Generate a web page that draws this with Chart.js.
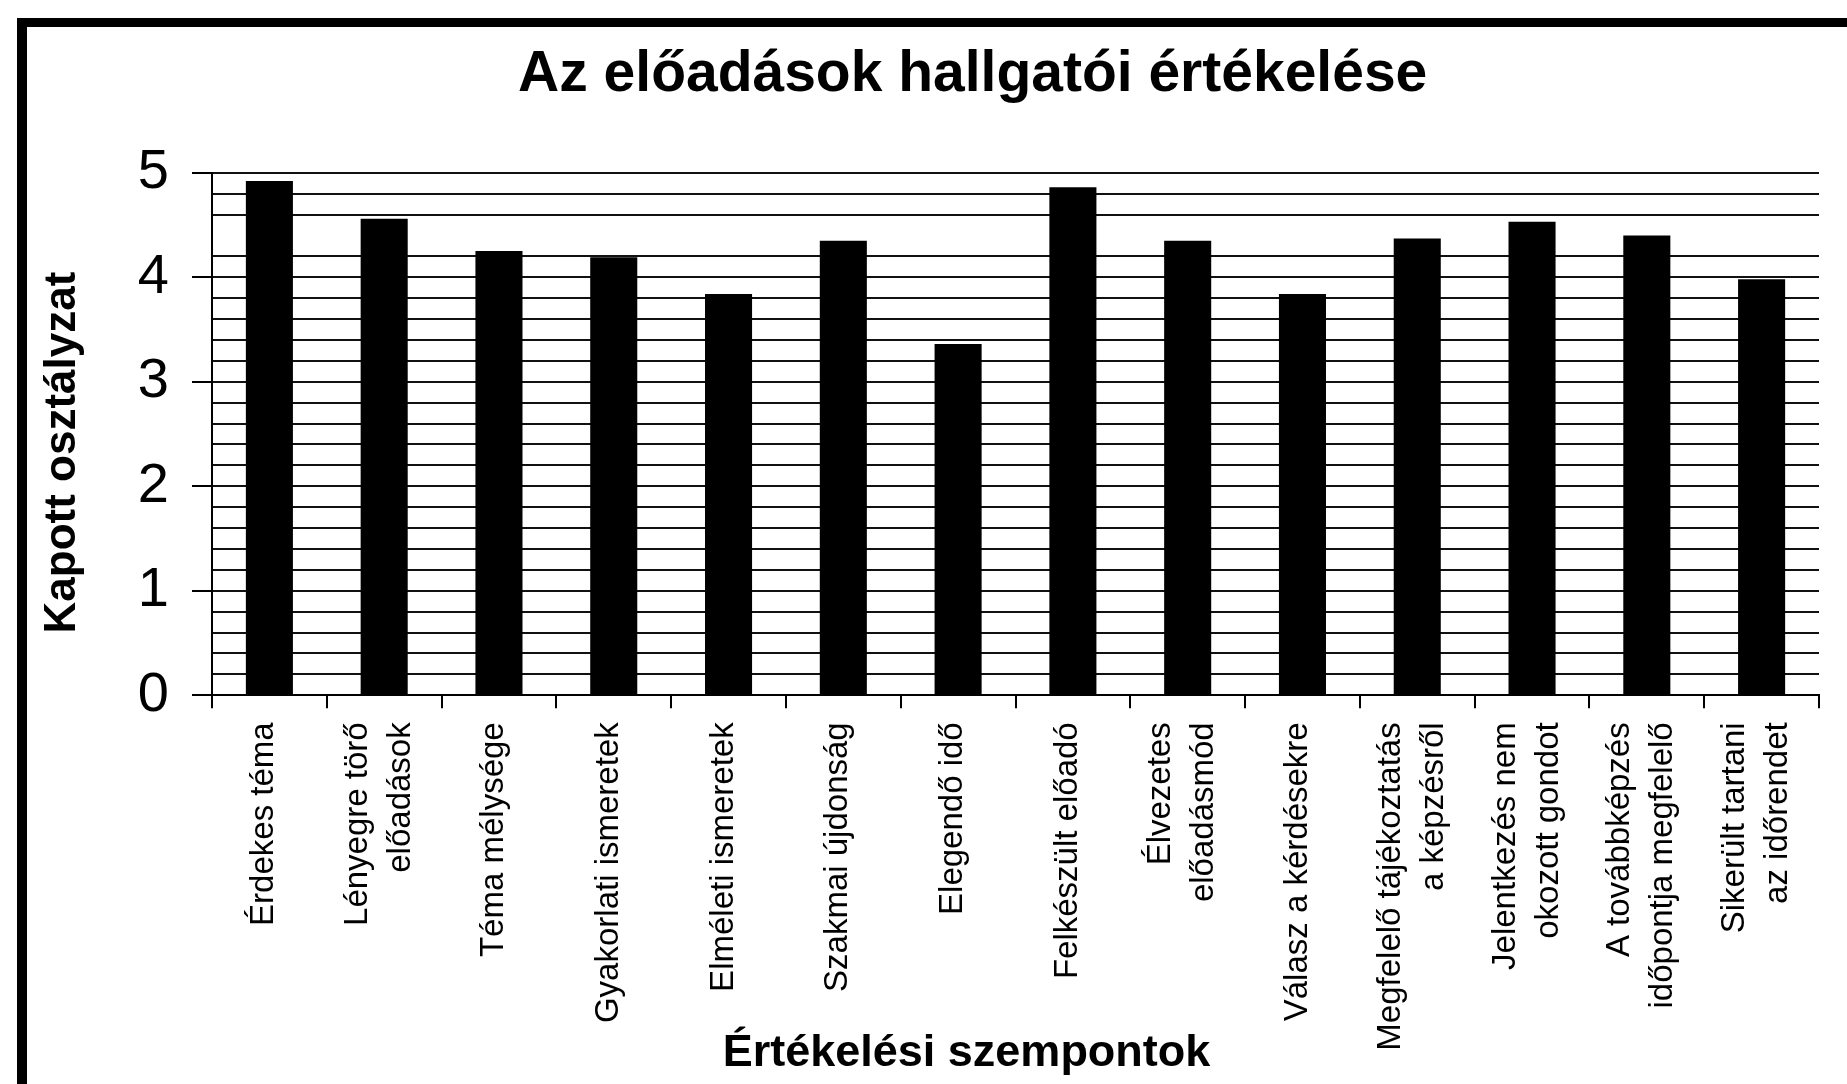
<!DOCTYPE html>
<html>
<head>
<meta charset="utf-8">
<script src="https://cdn.jsdelivr.net/npm/chart.js@4/dist/chart.umd.min.js"></script>
<style>
  html, body { margin: 0; padding: 0; background: #fff; overflow: hidden; }
  #c { display: block; }
</style>
</head>
<body>
<canvas id="c" width="1847" height="1084"></canvas>
<script>
// ---- data ----
const chartTitle = 'Az előadások hallgatói értékelése';
const xTitle = 'Értékelési szempontok';
const yTitle = 'Kapott osztályzat';
const categories = [
  'Érdekes téma',
  ['Lényegre törő', 'előadások'],
  'Téma mélysége',
  'Gyakorlati ismeretek',
  'Elméleti ismeretek',
  'Szakmai újdonság',
  'Elegendő idő',
  'Felkészült előadó',
  ['Élvezetes', 'előadásmód'],
  'Válasz a kérdésekre',
  ['Megfelelő tájékoztatás', 'a képzésről'],
  ['Jelentkezés nem', 'okozott gondot'],
  ['A továbbképzés', 'időpontja megfelelő'],
  ['Sikerült tartani', 'az időrendet']
];
const values = [4.92, 4.56, 4.25, 4.19, 3.84, 4.35, 3.36, 4.86, 4.35, 3.84, 4.37, 4.53, 4.40, 3.98];
const yTickLabels = ['0', '1', '2', '3', '4', '5'];
const yMin = 0, yMax = 5, yStep = 0.2;
const missingGridValues = [4.4];

// ---- styling / layout ----
const FONT = "'Liberation Sans', Arial, Helvetica, sans-serif";
const PLOT_LEFT = 212, PLOT_RIGHT = 1819, PLOT_TOP = 172.7, PLOT_BOTTOM = 695.3;
const W = 1847, H = 1084;
const LABEL_SIZE = 33, LABEL_LH = 1.3;

const near = (a, b) => Math.abs(a - b) < 1e-6;
const isMajor = v => yTickLabels.some(t => near(v, Number(t)));

const framePlugin = {
  id: 'frame',
  beforeDraw(chart) {
    const ctx = chart.ctx;
    ctx.save();
    ctx.fillStyle = '#fff';
    ctx.fillRect(0, 0, W, H);
    ctx.fillStyle = '#000';
    ctx.fillRect(17, 18, 10, H);
    ctx.fillRect(17, 18, W, 9);
    ctx.restore();
    // center multi-line category labels on their category
    const s = chart.scales.x;
    const items = s.getLabelItems();
    if (!items._centered) {
      const lh = LABEL_SIZE * LABEL_LH;
      items.forEach(it => {
        if (Array.isArray(it.label) && it.label.length > 1) {
          it.options.translation[0] -= (it.label.length - 1) * lh / 2;
        }
      });
      items._centered = true;
    }
  },
  afterDraw(chart) {
    const ctx = chart.ctx;
    ctx.save();
    ctx.fillStyle = '#000';
    ctx.textBaseline = 'alphabetic';
    ctx.textAlign = 'center';
    ctx.font = "bold 57px " + FONT;
    ctx.fillText(chartTitle, 972.7, 90.7);
    ctx.font = "bold 45px " + FONT;
    ctx.fillText(xTitle, 966.5, 1066);
    ctx.translate(75, 452.5);
    ctx.rotate(-Math.PI / 2);
    ctx.font = "bold 44px " + FONT;
    ctx.fillText(yTitle, 0, 0);
    ctx.restore();
  }
};

new Chart(document.getElementById('c'), {
  type: 'bar',
  data: {
    labels: categories,
    datasets: [{
      data: values,
      backgroundColor: '#000',
      borderWidth: 0,
      barPercentage: 0.41,
      categoryPercentage: 1
    }]
  },
  options: {
    responsive: false,
    animation: false,
    devicePixelRatio: 1,
    layout: { padding: { left: 0, right: W - PLOT_RIGHT, top: PLOT_TOP, bottom: 0 } },
    plugins: {
      legend: { display: false },
      title: { display: false },
      tooltip: { enabled: false }
    },
    scales: {
      x: {
        afterFit: s => { s.height = H - PLOT_BOTTOM; s.paddingLeft = 0; s.paddingRight = 0; },
        ticks: {
          autoSkip: false,
          maxRotation: 90,
          minRotation: 90,
          padding: 14,
          labelOffset: -5,
          color: '#000',
          font: { family: FONT, size: LABEL_SIZE, lineHeight: LABEL_LH }
        },
        grid: {
          offset: true,
          drawOnChartArea: false,
          drawTicks: true,
          tickLength: 13,
          color: '#000',
          lineWidth: 2
        },
        border: { color: '#000', width: 2 }
      },
      y: {
        min: yMin,
        max: yMax,
        afterFit: s => { s.width = PLOT_LEFT; s.paddingTop = 0; s.paddingBottom = 0; },
        ticks: {
          stepSize: yStep,
          autoSkip: false,
          padding: 23,
          color: '#000',
          font: { family: FONT, size: 56 },
          callback: v => isMajor(v) ? yTickLabels.find(t => near(v, Number(t))) : ''
        },
        grid: {
          color: c => missingGridValues.some(m => near(c.tick.value, m)) ? 'rgba(0,0,0,0)' : '#111',
          tickColor: c => isMajor(c.tick.value) ? '#000' : 'rgba(0,0,0,0)',
          lineWidth: 2,
          tickLength: 20
        },
        border: { color: '#000', width: 2 }
      }
    }
  },
  plugins: [framePlugin]
});
</script>
</body>
</html>
